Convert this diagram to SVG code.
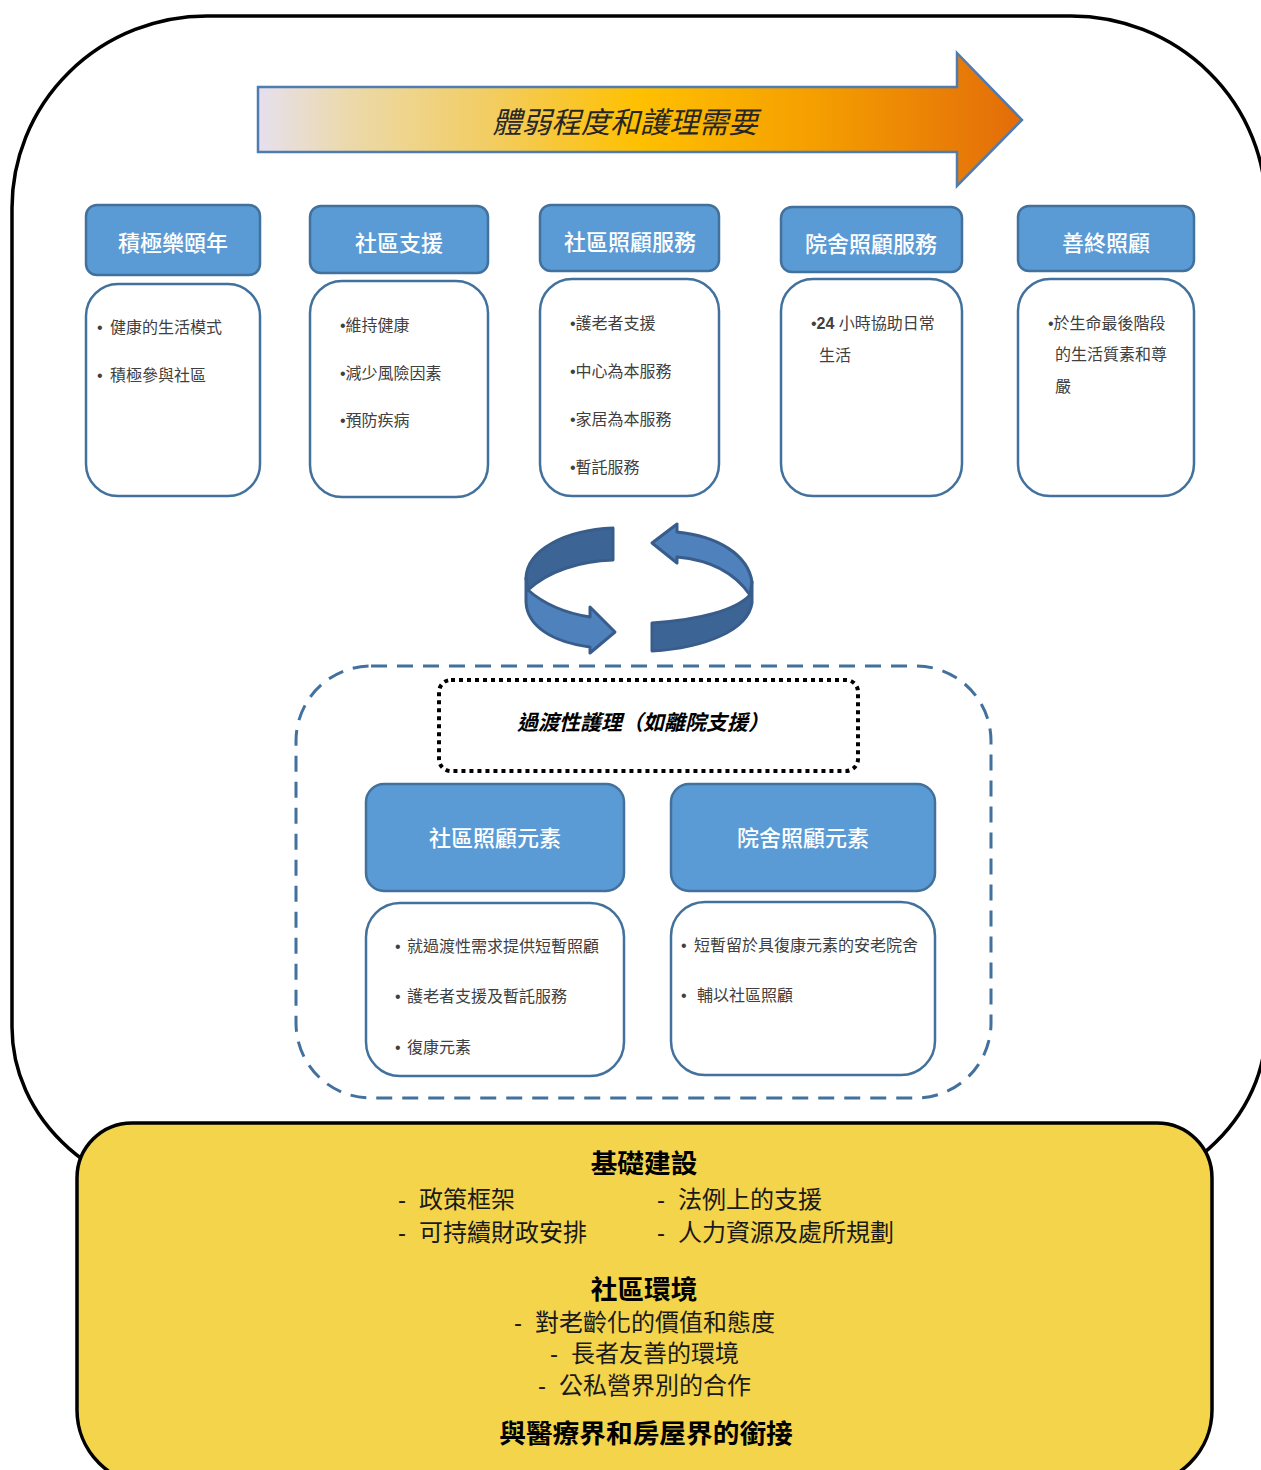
<svg xmlns="http://www.w3.org/2000/svg" width="1261" height="1470" viewBox="0 0 1261 1470">
<defs>
<linearGradient id="arrowGrad" x1="258" y1="0" x2="1022" y2="0" gradientUnits="userSpaceOnUse">
<stop offset="0" stop-color="#e6e0ee"/>
<stop offset="0.12" stop-color="#ecd9aa"/>
<stop offset="0.3" stop-color="#f2cd63"/>
<stop offset="0.5" stop-color="#ffc000"/>
<stop offset="0.72" stop-color="#f5a000"/>
<stop offset="1" stop-color="#e36c0a"/>
</linearGradient>
<style>
text { font-family: "Liberation Sans", "Noto Sans CJK TC", sans-serif; }
.hdr { fill: #5b9bd5; stroke: #41719c; stroke-width: 2.5; }
.box { fill: #ffffff; stroke: #41719c; stroke-width: 2.5; }
.ht { fill: #ffffff; font-size: 22px; text-anchor: middle; font-weight: 500; }
.bt { fill: #404040; font-size: 16px; }
.bt2 { fill: #404040; font-size: 16px; }
.yt { fill: #1a1a1a; font-size: 24px; }
.yh { fill: #000000; font-size: 26.7px; font-weight: bold; text-anchor: middle; }
.light { fill: #4f81bd; stroke: #385d8a; stroke-width: 3; stroke-linejoin: round; }
.dark { fill: #3c6596; stroke: #385d8a; stroke-width: 3; stroke-linejoin: round; }
</style>
</defs>
<rect width="1261" height="1470" fill="#ffffff"/>

<g id="outer-frame">
<path d="M207,16 L1071,16 A195,192 0 0 1 1266,208 L1266,1027 A195,172 0 0 1 1071,1199 L207,1199 A195,172 0 0 1 12,1027 L12,208 A195,192 0 0 1 207,16 Z" fill="#ffffff" stroke="#000000" stroke-width="3.5"/>
</g>

<g id="frailty-arrow">
<path d="M258,87 L957,87 L957,53 L1022,120 L957,186 L957,152 L258,152 Z" fill="url(#arrowGrad)" stroke="#4e7bb0" stroke-width="2.5"/>
<text x="625" y="133" font-size="29.5" font-style="italic" text-anchor="middle" fill="#262626">體弱程度和護理需要</text>
</g>

<g id="col1">
<rect class="hdr" x="86" y="205" width="174" height="70" rx="11"/>
<text class="ht" x="173" y="251">積極樂頤年</text>
<rect class="box" x="86" y="284" width="174" height="212" rx="32"/>
<text class="bt" x="97" y="333">•</text><text class="bt" x="110" y="333">健康的生活模式</text>
<text class="bt" x="97" y="381">•</text><text class="bt" x="110" y="381">積極參與社區</text>
</g>

<g id="col2">
<rect class="hdr" x="310" y="206" width="178" height="67" rx="11"/>
<text class="ht" x="399" y="251">社區支援</text>
<rect class="box" x="310" y="281" width="178" height="216" rx="32"/>
<text class="bt" x="340" y="331">•維持健康</text>
<text class="bt" x="340" y="379">•減少風險因素</text>
<text class="bt" x="340" y="426">•預防疾病</text>
</g>

<g id="col3">
<rect class="hdr" x="540" y="205" width="179" height="66" rx="11"/>
<text class="ht" x="630" y="250">社區照顧服務</text>
<rect class="box" x="540" y="279" width="179" height="217" rx="32"/>
<text class="bt" x="570" y="329">•護老者支援</text>
<text class="bt" x="570" y="377">•中心為本服務</text>
<text class="bt" x="570" y="425">•家居為本服務</text>
<text class="bt" x="570" y="473">•暫託服務</text>
</g>

<g id="col4">
<rect class="hdr" x="781" y="207" width="181" height="65" rx="11"/>
<text class="ht" x="871" y="252">院舍照顧服務</text>
<rect class="box" x="781" y="279" width="181" height="217" rx="32"/>
<text class="bt" x="811" y="329">•<tspan font-weight="bold">24</tspan> 小時協助日常</text>
<text class="bt" x="819" y="361">生活</text>
</g>

<g id="col5">
<rect class="hdr" x="1018" y="206" width="176" height="65" rx="11"/>
<text class="ht" x="1106" y="251">善終照顧</text>
<rect class="box" x="1018" y="279" width="176" height="217" rx="32"/>
<text class="bt" x="1048" y="329">•於生命最後階段</text>
<text class="bt" x="1055" y="360">的生活質素和尊</text>
<text class="bt" x="1055" y="392">嚴</text>
</g>

<g id="cycle-arrows">
<path class="dark" d="M613,528 L613,560 C580,561 548,571 528,590 L526,578 C527,550 565,530 613,528 Z"/>
<path class="light" d="M528,590 C545,605 565,613 590,617 L590,607 L615,632 L590,653 L590,647 C552,642 527,626 526,602 L526,578 Z"/>
<path class="light" d="M652,543 L677,524 L677,532 C718,536 748,555 752,582 L750,595 C735,573 710,560 677,557 L677,563 Z"/>
<path class="dark" d="M752,582 L752,603 C748,630 705,648 652,651 L652,623 C700,620 736,610 750,595 Z"/>
</g>

<g id="transitional-care">
<rect x="296" y="666" width="695" height="432" rx="75" fill="none" stroke="#41719c" stroke-width="3" stroke-dasharray="16 10"/>
<rect x="439" y="680" width="419" height="91" rx="12" fill="#ffffff" stroke="#000000" stroke-width="4" stroke-dasharray="4 4"/>
<text x="643" y="730" font-size="21" font-style="italic" font-weight="bold" text-anchor="middle" fill="#000000">過渡性護理（如離院支援）</text>
</g>

<g id="community-elements">
<rect class="hdr" x="366" y="784" width="258" height="107" rx="18"/>
<text class="ht" x="495" y="846">社區照顧元素</text>
<rect class="box" x="366" y="903" width="258" height="173" rx="34"/>
<text class="bt2" x="395" y="952">•</text><text class="bt2" x="407" y="952">就過渡性需求提供短暫照顧</text>
<text class="bt2" x="395" y="1002">•</text><text class="bt2" x="407" y="1002">護老者支援及暫託服務</text>
<text class="bt2" x="395" y="1053">•</text><text class="bt2" x="407" y="1053">復康元素</text>
</g>

<g id="residential-elements">
<rect class="hdr" x="671" y="784" width="264" height="107" rx="18"/>
<text class="ht" x="803" y="846">院舍照顧元素</text>
<rect class="box" x="671" y="902" width="264" height="173" rx="34"/>
<text class="bt2" x="681" y="951">•</text><text class="bt2" x="694" y="951">短暫留於具復康元素的安老院舍</text>
<text class="bt2" x="681" y="1001">•</text><text class="bt2" x="697" y="1001">輔以社區照顧</text>
</g>

<g id="foundation">
<path d="M132,1123 L1157,1123 A55,55 0 0 1 1212,1178 L1212,1410 A75,75 0 0 1 1137,1485 L152,1485 A75,75 0 0 1 77,1410 L77,1178 A55,55 0 0 1 132,1123 Z" fill="#f3d44b" stroke="#000000" stroke-width="3.5"/>
<text class="yh" x="644" y="1173">基礎建設</text>
<text class="yt" x="398" y="1208">-</text><text class="yt" x="419" y="1208">政策框架</text>
<text class="yt" x="657" y="1208">-</text><text class="yt" x="678" y="1208">法例上的支援</text>
<text class="yt" x="398" y="1241">-</text><text class="yt" x="419" y="1241">可持續財政安排</text>
<text class="yt" x="657" y="1241">-</text><text class="yt" x="678" y="1241">人力資源及處所規劃</text>
<text class="yh" x="644" y="1299">社區環境</text>
<text class="yt" x="514" y="1331">-</text><text class="yt" x="535" y="1331">對老齡化的價值和態度</text>
<text class="yt" x="550" y="1362">-</text><text class="yt" x="571" y="1362">長者友善的環境</text>
<text class="yt" x="538" y="1394">-</text><text class="yt" x="559" y="1394">公私營界別的合作</text>
<text class="yh" x="646" y="1443">與醫療界和房屋界的銜接</text>
</g>
</svg>
